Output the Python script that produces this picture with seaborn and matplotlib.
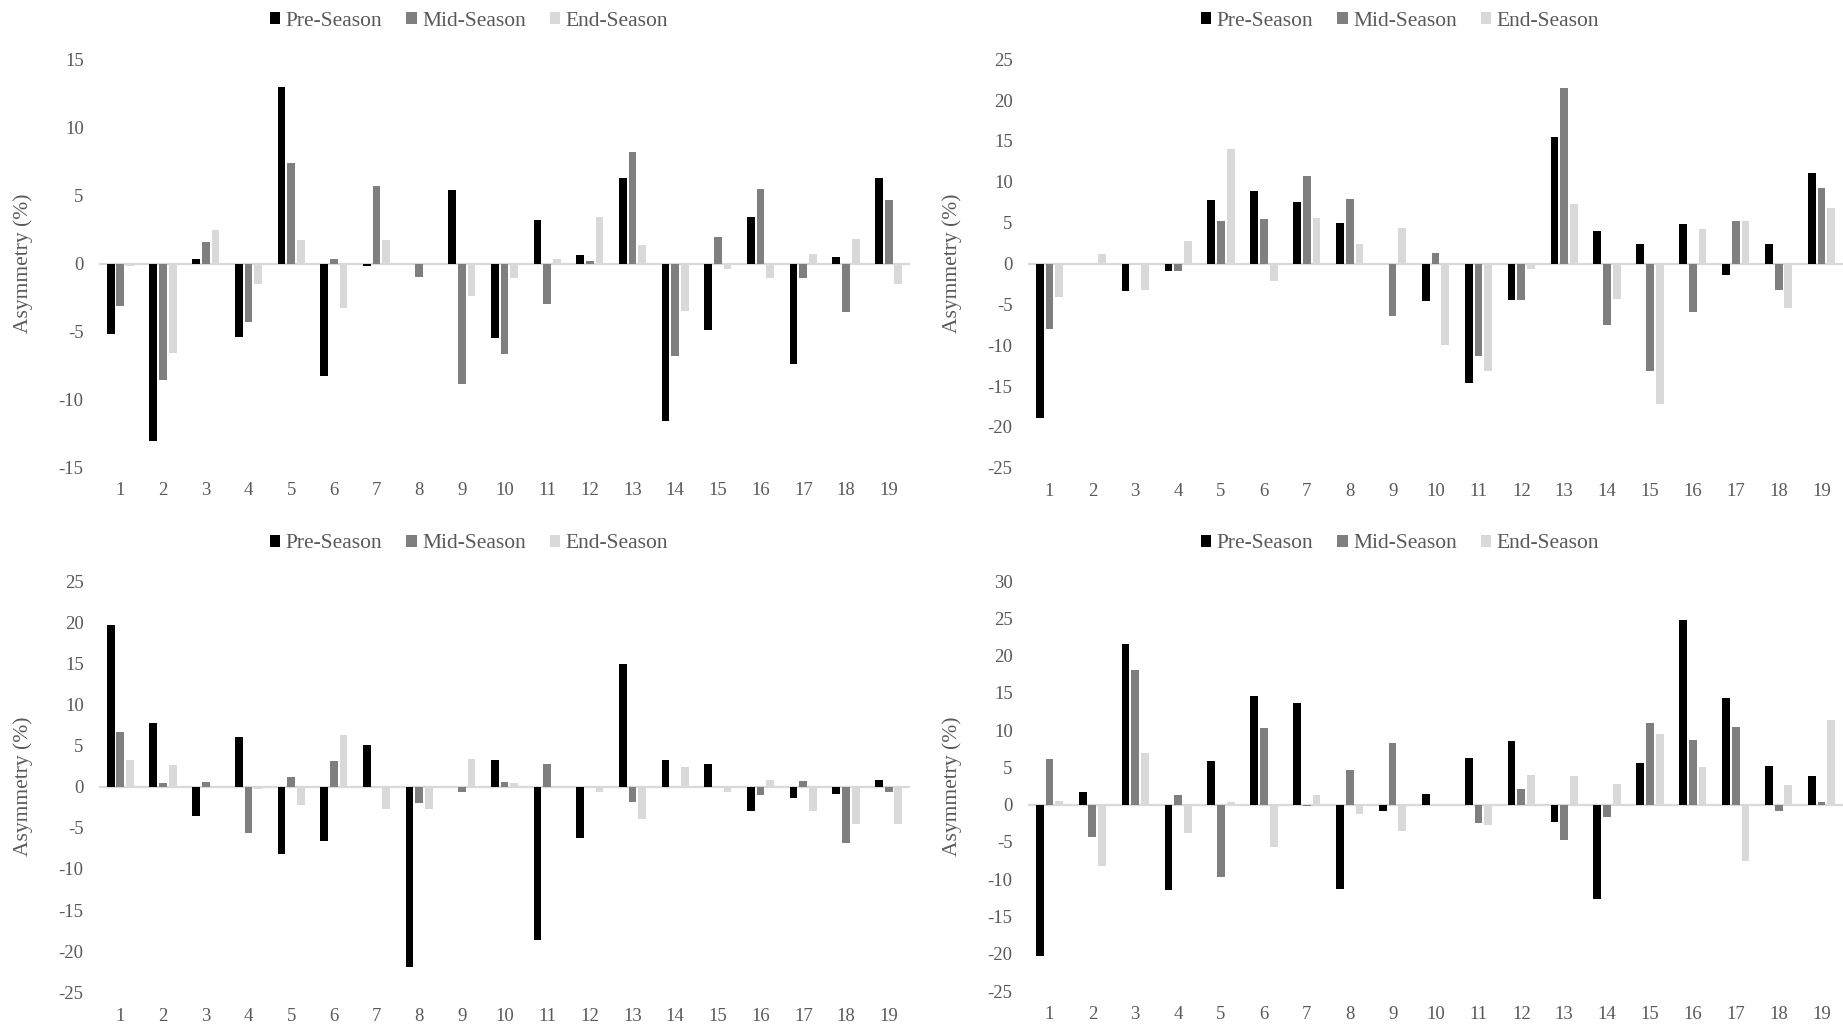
import matplotlib
matplotlib.use("Agg")
import matplotlib.pyplot as plt
from matplotlib.patches import Rectangle
import seaborn as sns
import pandas as pd

subjects = [str(i) for i in range(1, 20)]
phases = ["Pre-Season", "Mid-Season", "End-Season"]
colors = ["#000000", "#7f7f7f", "#d9d9d9"]

# Panel A (top left)
a_pre = [-5.2, -13.1, 0.3, -5.4, 13.0, -8.3, -0.2, 0.0, 5.4, -5.5, 3.2, 0.6, 6.3, -11.6, -4.9, 3.4, -7.4, 0.45, 6.3]
a_mid = [-3.1, -8.6, 1.6, -4.3, 7.4, 0.3, 5.7, -1.0, -8.9, -6.7, -3.0, 0.15, 8.2, -6.8, 1.95, 5.5, -1.1, -3.6, 4.7]
a_end = [-0.2, -6.6, 2.5, -1.5, 1.7, -3.3, 1.7, 0.0, -2.4, -1.1, 0.3, 3.4, 1.4, -3.5, -0.4, -1.1, 0.7, 1.8, -1.5]

# Panel B (top right)
b_pre = [-18.9, 0.0, -3.4, -0.9, 7.8, 8.9, 7.5, 4.9, 0.0, -4.6, -14.6, -4.5, 15.5, 4.0, 2.4, 4.8, -1.4, 2.4, 11.1]
b_mid = [-8.0, 0.0, 0.0, -0.9, 5.2, 5.4, 10.7, 7.9, -6.4, 1.3, -11.3, -4.5, 21.5, -7.5, -13.2, -5.9, 5.2, -3.3, 9.2]
b_end = [-4.1, 1.2, -3.2, 2.8, 14.0, -2.1, 5.6, 2.4, 4.4, -10.0, -13.2, -0.7, 7.3, -4.4, -17.2, 4.2, 5.2, -5.4, 6.8]

# Panel C (bottom left)
c_pre = [19.7, 7.7, -3.6, 6.0, -8.2, -6.6, 5.1, -21.9, 0.0, 3.2, -18.6, -6.2, 14.9, 3.2, 2.8, -2.9, -1.4, -0.9, 0.85]
c_mid = [6.7, 0.5, 0.6, -5.6, 1.2, 3.1, 0.0, -2.0, -0.6, 0.6, 2.7, 0.0, -1.9, 0.0, 0.0, -1.05, 0.7, -6.8, -0.7]
c_end = [3.2, 2.6, 0.0, -0.3, -2.2, 6.3, -2.7, -2.7, 3.4, 0.45, 0.0, -0.7, -3.9, 2.4, -0.7, 0.85, -3.0, -4.5, -4.6]

# Panel D (bottom right)
d_pre = [-20.3, 1.7, 21.6, -11.4, 5.8, 14.6, 13.6, -11.3, -0.8, 1.4, 6.2, 8.6, -2.3, -12.7, 5.6, 24.8, 14.3, 5.2, 3.9]
d_mid = [6.1, -4.4, 18.1, 1.3, -9.7, 10.3, -0.2, 4.7, 8.3, 0.0, -2.5, 2.1, -4.8, -1.7, 11.0, 8.7, 10.4, -0.9, 0.3]
d_end = [0.5, -8.2, 6.9, -3.8, 0.3, -5.7, 1.3, -1.2, -3.5, 0.0, -2.7, 4.0, 3.8, 2.8, 9.5, 5.1, -7.6, 2.7, 11.3]

panels = [
    (a_pre, a_mid, a_end, (-15, 15), list(range(-15, 16, 5))),
    (b_pre, b_mid, b_end, (-25, 25), list(range(-25, 26, 5))),
    (c_pre, c_mid, c_end, (-25, 25), list(range(-25, 26, 5))),
    (d_pre, d_mid, d_end, (-25, 30), list(range(-25, 31, 5))),
]

sns.set_theme(style="white")
plt.rcParams["font.family"] = ["Liberation Serif", "DejaVu Serif"]
text_color = "#595959"

W, H = 1843, 1025
fig = plt.figure(figsize=(W / 100, H / 100), dpi=100)

# axes boxes in pixels: left, top, right, bottom
boxes = [
    (99, 60, 910, 467),
    (1028, 59.3, 1843, 467.7),
    (99, 581, 910, 992.3),
    (1028, 581, 1843, 991),
]
legend_pos = [(469, 21), (1400, 21), (469, 544), (1400, 544)]

for (pre, mid, end, ylim, yt), (l, t, r, b), (lx, ly) in zip(panels, boxes, legend_pos):
    ax = fig.add_axes([l / W, 1 - b / H, (r - l) / W, (b - t) / H])
    df = pd.DataFrame({
        "subject": subjects * 3,
        "phase": [phases[0]] * 19 + [phases[1]] * 19 + [phases[2]] * 19,
        "value": pre + mid + end,
    })
    ax.axhline(0, color="#d9d9d9", lw=1.6, zorder=0.5)
    sns.barplot(data=df, x="subject", y="value", hue="phase", order=subjects,
                hue_order=phases, palette=colors, saturation=1, width=0.68,
                gap=0.2, errorbar=None, legend=False, ax=ax, zorder=2,
                linewidth=0, edgecolor="none")
    ax.set_xlim(-0.5, 18.5)
    ax.set_ylim(*ylim)
    ax.set_yticks(yt)
    ax.set_yticklabels([str(v) for v in yt])
    for s in ax.spines.values():
        s.set_visible(False)
    ax.tick_params(axis="both", length=0, labelsize=13.5, colors=text_color, pad=11)
    ax.set_xlabel("")
    ax.set_ylabel("Asymmetry (%)", fontsize=15.5, color=text_color)
    ax.yaxis.set_label_coords(-66 / (r - l), 0.5)
    ax.grid(False)

    handles = [Rectangle((0, 0), 1, 1, facecolor=c, edgecolor="none") for c in colors]
    fig.legend(handles, phases, loc="center", bbox_to_anchor=(lx / W, 1 - ly / H),
               ncol=3, frameon=False, fontsize=15.5, labelcolor=text_color,
               handlelength=0.5, handleheight=0.5, handletextpad=0.25,
               columnspacing=1.1)

fig.savefig("out.png", dpi=100)
